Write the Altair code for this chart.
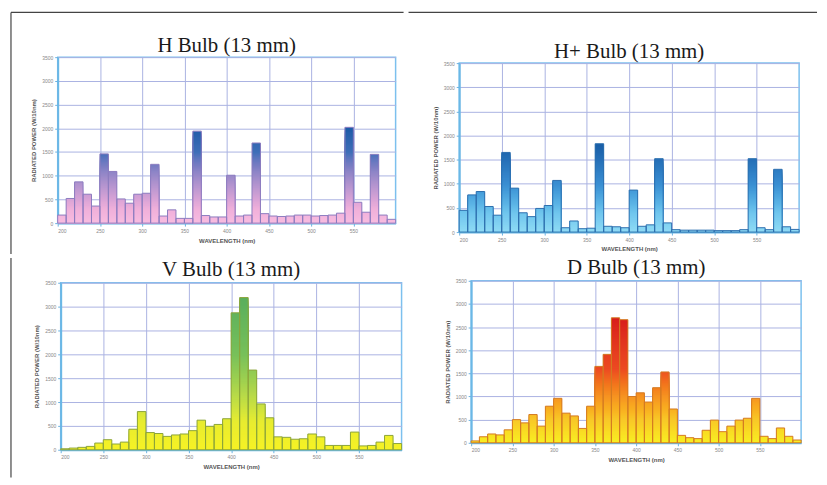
import altair as alt
import pandas as pd
import numpy as np

# wavelength bins (nm), 10 nm wide
bin_start = list(range(200, 600, 10))

# radiated power per 10 nm bin
h_bulb = [170, 520, 870, 610, 360, 1460, 1090, 510, 420, 610,
          630, 1240, 150, 280, 100, 100, 1940, 160, 130, 130,
          1010, 150, 170, 1690, 200, 150, 140, 150, 170, 170,
          150, 160, 170, 210, 2020, 440, 230, 1450, 170, 80]
hplus_bulb = [450, 770, 840, 530, 350, 1650, 910, 400, 320, 490,
              550, 1070, 90, 230, 70, 80, 1830, 120, 110, 90,
              870, 120, 150, 1520, 190, 50, 40, 40, 40, 40,
              30, 30, 30, 50, 1520, 90, 50, 1300, 110, 55]
v_bulb = [20, 35, 50, 70, 140, 210, 120, 160, 430, 800,
          360, 340, 280, 310, 330, 400, 620, 490, 530, 650,
          2870, 3190, 1670, 960, 670, 270, 260, 220, 230, 330,
          270, 90, 90, 90, 370, 80, 90, 160, 300, 130]
d_bulb = [40, 130, 190, 170, 280, 500, 430, 610, 360, 790,
          960, 640, 580, 310, 790, 1650, 1910, 2700, 2660, 1000,
          1080, 880, 1190, 1530, 730, 160, 110, 90, 270, 490,
          240, 360, 490, 530, 960, 140, 90, 320, 140, 60]

x_ticks = [200, 250, 300, 350, 400, 450, 500, 550]
y_ticks = [0, 500, 1000, 1500, 2000, 2500, 3000, 3500]

SEG = 20  # height of one colour step of the vertical gradient
BORDER = "#444444"
WHITE = "#ffffff"
FRAME = alt.ViewBackground(stroke="#7cc0ee", strokeWidth=1.5)
one = pd.DataFrame({"a": [0]})


def segments(values):
    rows = []
    for s, v in zip(bin_start, values):
        tops = list(np.arange(SEG, v, SEG)) + [v]
        for t in tops:
            rows.append({"wl": s, "wl2": s + 10, "top": float(t), "zero": 0.0})
    return pd.DataFrame(rows).sort_values("top", ascending=False)


def rule(x1, x2, y1, y2, col):
    enc = {"x": alt.value(x1), "y": alt.value(y1)}
    if x2 is not None:
        enc["x2"] = alt.value(x2)
    if y2 is not None:
        enc["y2"] = alt.value(y2)
    return alt.Chart(one).mark_rule(stroke=col, strokeWidth=1.2).encode(**enc)


def panel(title, values, dom, rng, outline, w, h, title_base, extras):
    x = alt.X("wl:Q", scale=alt.Scale(domain=[200, 600], nice=False, zero=False),
              axis=alt.Axis(values=x_ticks, title="WAVELENGTH (nm)", format="d", labelOverlap=False))
    y = alt.Y("top:Q", scale=alt.Scale(domain=[0, 3500], nice=False),
              axis=alt.Axis(values=y_ticks, title="RADIATED POWER (W/10nm)", format="d", labelOverlap=False))
    seg = alt.Chart(segments(values)).mark_rect(strokeWidth=0).encode(
        x=x, x2="wl2:Q", y=y, y2="zero:Q",
        color=alt.Color("top:Q", scale=alt.Scale(domain=dom, range=rng, clamp=True), legend=None),
    )
    df = pd.DataFrame({"wl": bin_start, "wl2": [b + 10 for b in bin_start],
                       "top": values, "zero": [0] * len(values)})
    out = alt.Chart(df).mark_rect(fillOpacity=0, stroke=outline, strokeWidth=1).encode(
        x=x, x2="wl2:Q", y=y, y2="zero:Q")
    ttl = alt.Chart(one).mark_text(text=title, font="Liberation Serif", fontSize=21,
                                   color="#1a1a1a", align="center", baseline="alphabetic").encode(
        x=alt.value(w / 2), y=alt.value(title_base))
    layers = [seg, out, ttl] + [rule(*e) for e in extras]
    return alt.layer(*layers).properties(width=w, height=h, view=FRAME)


def spacer():
    return alt.Chart(one).mark_rule(strokeWidth=0).encode(
        x=alt.value(0), x2=alt.value(1), y=alt.value(0)).properties(width=1, height=1)


def hc(*c):
    return alt.hconcat(*c, spacing=0).resolve_scale(color="independent")


def vc(*c):
    return alt.vconcat(*c, spacing=0).resolve_scale(color="independent")


def placed_top(p):
    return vc(spacer(), hc(spacer(), p))


def placed_below(p):
    return hc(spacer(), p)


h_panel = panel("H Bulb (13 mm)", h_bulb, [0, 300, 900, 1500, 2000],
                ["#f8bce0", "#f0b0da", "#a890cc", "#3f6fb8", "#1c5ca8"], "#8c7cc0",
                340, 167, -5,
                [(-47, 348, -45, None, BORDER), (-47, None, -45, 198, BORDER)])
v_panel = panel("V Bulb (13 mm)", v_bulb, [0, 600, 1200, 2000, 3200],
                ["#f6f224", "#e8ec30", "#b4d84a", "#78c05a", "#5aae5c"], "#8ca43a",
                343, 168, -7,
                [(-50, None, -25, 196, BORDER)])
hp_panel = panel("H+ Bulb (13 mm)", hplus_bulb, [0, 400, 1000, 1800],
                 ["#90dbf5", "#70c6ee", "#3a8ed2", "#1a5fa8"], "#2c6fae",
                 342, 170, -5,
                 [(-51, 360, -51, None, BORDER), (-40, -30, 191, None, WHITE)])
d_panel = panel("D Bulb (13 mm)", d_bulb, [0, 500, 1000, 1600, 2700],
                ["#f7f024", "#f8c828", "#f69422", "#ec4a22", "#d81c1c"], "#d47a22",
                332, 163, -7,
                [(-63, -53, -24, None, WHITE)])

left = vc(placed_top(h_panel), placed_below(v_panel))
right = vc(placed_top(hp_panel), placed_below(d_panel))
chart = hc(left, right).properties(
    padding=0, background="white"
).configure_view(
    stroke="transparent", strokeWidth=0
).configure_axis(
    labelFont="Liberation Sans", labelFontSize=5, labelColor="#888888",
    titleFont="Liberation Sans", titleFontSize=6, titleFontWeight="bold", titleColor="#555555",
    tickColor="#6ab0e0", tickSize=3, labelPadding=2,
    domainColor="#6ab8e6", domainWidth=2,
    gridColor="#aab2e2", gridWidth=1, gridOpacity=1,
).configure_axisY(titlePadding=5).configure_axisX(titlePadding=4)

chart.save("out.html", embed_options={"renderer": "svg", "actions": False})
